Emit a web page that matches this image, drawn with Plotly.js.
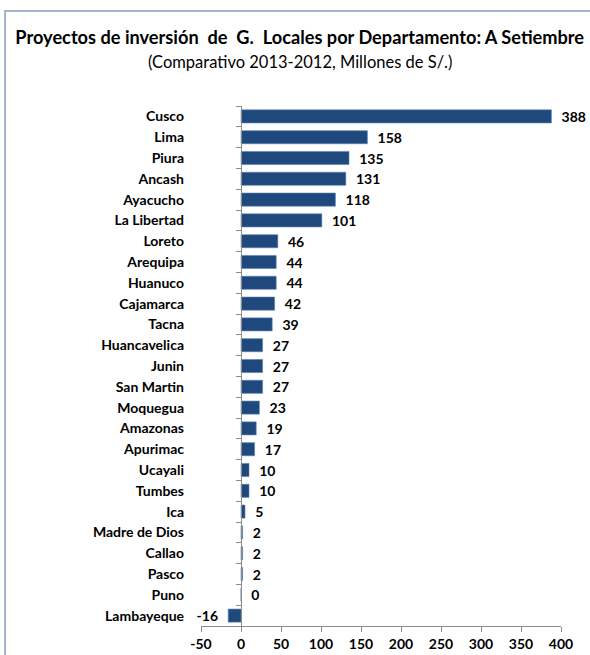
<!DOCTYPE html>
<html>
<head>
<meta charset="utf-8">
<script src="https://cdn.plot.ly/plotly-3.0.1.min.js"></script>
<style>
  html, body { margin: 0; padding: 0; background: #fff; }
  #wrap { position: relative; width: 590px; height: 655px; }
  #chart { width: 590px; height: 655px; }
  #frame { position: absolute; left: 4px; top: 10px; width: 600px; height: 660px;
           border-left: 2px solid #a3b5cf; border-top: 2px solid #a3b5cf; pointer-events: none; }
</style>
</head>
<body>
<div id="wrap">
  <div id="chart"></div>
  <div id="frame"></div>
</div>
<script>
const departamentos = ["Cusco","Lima","Piura","Ancash","Ayacucho","La Libertad","Loreto","Arequipa","Huanuco","Cajamarca","Tacna","Huancavelica","Junin","San Martin","Moquegua","Amazonas","Apurimac","Ucayali","Tumbes","Ica","Madre de Dios","Callao","Pasco","Puno","Lambayeque"];
const valores = [388,158,135,131,118,101,46,44,44,42,39,27,27,27,23,19,17,10,10,5,2,2,2,0,-16];
const xTicks = [-50,0,50,100,150,200,250,300,350,400];

const FONT = "Lato, 'Open Sans', sans-serif";
const etiquetas = valores.map(v => v >= 0 ? "\u00a0\u00a0<b>" + v + "</b>" : "<b>" + v + "</b>\u00a0\u00a0");

const barras = {
  type: "bar",
  orientation: "h",
  y: departamentos,
  x: valores,
  width: 0.63,
  marker: { color: "#1f497d", line: { color: "#5b83b8", width: 0.6 } },
  text: etiquetas,
  textposition: "outside",
  constraintext: "none",
  textfont: { family: FONT, size: 14, color: "#000" },
  cliponaxis: false,
  hoverinfo: "x+y"
};
const ejeCero = {
  type: "bar",
  orientation: "h",
  y: departamentos,
  x: valores.map(() => 0),
  yaxis: "y2",
  marker: { color: "rgba(0,0,0,0)" },
  hoverinfo: "skip",
  showlegend: false
};

const layout = {
  width: 590, height: 655,
  margin: { l: 201, r: 29, t: 106, b: 29 },
  paper_bgcolor: "#fff", plot_bgcolor: "#fff",
  showlegend: false,
  font: { family: FONT, color: "#000" },
  title: {
    text: "<b>Proyectos de inversión\u00a0 de\u00a0 G.\u00a0 Locales por Departamento: A Setiembre</b>",
    font: { family: FONT, size: 18.2, color: "#000" },
    x: 0.508, xref: "container", xanchor: "center",
    y: 1 - 38/655, yref: "container", yanchor: "middle"
  },
  annotations: [{
    text: "(Comparativo 2013-2012, Millones de S/.)",
    xref: "paper", yref: "paper", x: (300-201)/360, y: (626-62)/520,
    xanchor: "center", yanchor: "middle", showarrow: false,
    font: { family: FONT, size: 16.5, color: "#000" }
  }],
  xaxis: {
    range: [-50, 400],
    tickvals: xTicks,
    ticktext: xTicks.map(t => "<b>" + t + "</b>"),
    showgrid: false, zeroline: false,
    showline: true, linecolor: "#8c8c8c", linewidth: 1,
    ticks: "outside", ticklen: 5, tickcolor: "#8c8c8c",
    tickfont: { family: FONT, size: 14, color: "#000", weight: "bold" },
    fixedrange: true
  },
  yaxis: {
    autorange: "reversed",
    type: "category",
    tickvals: departamentos,
    ticktext: departamentos.map(d => "<b>" + d + "</b>"),
    showgrid: false, zeroline: false, showline: false,
    ticks: "", ticklabelstandoff: 16,
    tickfont: { family: FONT, size: 14, color: "#000" },
    fixedrange: true
  },
  yaxis2: {
    overlaying: "y",
    anchor: "free",
    position: 50/450,
    autorange: "reversed",
    type: "category",
    showgrid: false, zeroline: false,
    showline: true, linecolor: "#8c8c8c", linewidth: 1,
    ticks: "outside", tickson: "boundaries", ticklen: 5, tickcolor: "#8c8c8c",
    showticklabels: false,
    fixedrange: true
  },
  bargap: 0.37
};

Plotly.newPlot("chart", [barras, ejeCero], layout, { displayModeBar: false, staticPlot: true });
</script>
</body>
</html>
